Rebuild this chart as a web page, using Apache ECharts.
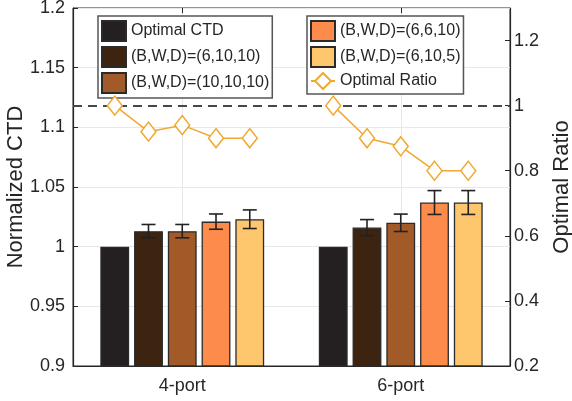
<!DOCTYPE html>
<html>
<head>
<meta charset="utf-8">
<script src="https://cdn.jsdelivr.net/npm/echarts@6/dist/echarts.min.js"></script>
<style>
html,body{margin:0;padding:0;background:#fff;}
#chart{width:572px;height:401px;}
</style>
</head>
<body>
<div id="chart"></div>
<script>
// ---- data ----
const categories = ['4-port', '6-port'];
const seriesNames = ['Optimal CTD', '(B,W,D)=(6,10,10)', '(B,W,D)=(10,10,10)', '(B,W,D)=(6,6,10)', '(B,W,D)=(6,10,5)'];
const optimalCTD = [1.000, 1.000];
const bwd_6_10_10 = [1.013, 1.016];
const bwd_10_10_10 = [1.013, 1.020];
const bwd_6_6_10 = [1.021, 1.037];
const bwd_6_10_5 = [1.023, 1.037];
const err_optimalCTD = [0, 0];
const err_6_10_10 = [0.0056, 0.0067];
const err_10_10_10 = [0.0056, 0.0073];
const err_6_6_10 = [0.0064, 0.010];
const err_6_10_5 = [0.0078, 0.010];
const ratio4port = [1.00, 0.92, 0.94, 0.90, 0.90];
const ratio6port = [1.00, 0.90, 0.875, 0.80, 0.80];
const ratioReference = 1.0;

// ---- styles ----
const barColors = ['#242021', '#3d2410', '#a25a29', '#fd8c4c', '#fec76e'];
const lineColor = '#f0a830';
const textColor = '#262626';
const FONT = 'Liberation Sans, Arial, sans-serif';

const barValues = [optimalCTD, bwd_6_10_10, bwd_10_10_10, bwd_6_6_10, bwd_6_10_5];
const barErrors = [err_optimalCTD, err_6_10_10, err_10_10_10, err_6_6_10, err_6_10_5];
const ratios = [ratio4port, ratio6port];

// bar layout (category units) so that line / error bars align with bars
const nBars = barValues.length;
const catGap = 0.25, barGap = 0.17;
const wUnit = (1 - catGap) / (nBars + (nBars - 1) * barGap);
const totalUnit = nBars * wUnit + (nBars - 1) * wUnit * barGap;
function barPos(cat, j) {
  return cat + 0.5 - totalUnit / 2 + j * wUnit * (1 + barGap) + wUnit / 2;
}

const series = [];
barValues.forEach((vals, j) => {
  series.push({
    name: seriesNames[j],
    type: 'bar',
    xAxisIndex: 0,
    yAxisIndex: 0,
    data: vals,
    barGap: (barGap * 100) + '%',
    barCategoryGap: (catGap * 100) + '%',
    itemStyle: { color: barColors[j], borderColor: '#2a2a2a', borderWidth: 1.3 },
    silent: true
  });
});

// error bars
const errData = [];
barValues.forEach((vals, j) => {
  vals.forEach((v, c) => {
    const e = barErrors[j][c];
    if (e > 0) errData.push([barPos(c, j), v - e, v + e]);
  });
});
series.push({
  type: 'custom',
  xAxisIndex: 2,
  yAxisIndex: 0,
  data: errData,
  encode: { x: 0, y: [1, 2] },
  silent: true,
  z: 5,
  renderItem: function (params, api) {
    const x = api.value(0);
    const lo = api.coord([x, api.value(1)]);
    const hi = api.coord([x, api.value(2)]);
    const cap = 7;
    const st = { stroke: '#222', lineWidth: 1.6, fill: null };
    return {
      type: 'group',
      children: [
        { type: 'line', shape: { x1: lo[0], y1: lo[1], x2: hi[0], y2: hi[1] }, style: st },
        { type: 'line', shape: { x1: lo[0] - cap, y1: lo[1], x2: lo[0] + cap, y2: lo[1] }, style: st },
        { type: 'line', shape: { x1: hi[0] - cap, y1: hi[1], x2: hi[0] + cap, y2: hi[1] }, style: st }
      ]
    };
  }
});

// ratio lines
ratios.forEach((arr, c) => {
  const s = {
    name: 'Optimal Ratio',
    type: 'line',
    xAxisIndex: 2,
    yAxisIndex: 1,
    data: arr.map((v, j) => [barPos(c, j), v]),
    symbol: 'diamond',
    symbolSize: [15, 19],
    lineStyle: { color: lineColor, width: 1.5 },
    itemStyle: { color: '#fff', borderColor: lineColor, borderWidth: 1.5 },
    z: 6,
    silent: true
  };
  if (c === 0) {
    s.markLine = {
      silent: true,
      symbol: 'none',
      label: { show: false },
      lineStyle: { color: '#474747', type: [9, 6], width: 2 },
      data: [{ yAxis: ratioReference }]
    };
  }
  series.push(s);
});

const legendCommon = {
  orient: 'vertical', top: 16,
  itemWidth: 24, itemHeight: 20, itemGap: 4,
  padding: [4, 3, 4, 3],
  backgroundColor: '#fff', borderColor: '#555', borderWidth: 1.5,
  textStyle: { fontSize: 16, color: textColor, fontFamily: FONT },
  selectedMode: false
};

const chart = echarts.init(document.getElementById('chart'), null, { renderer: 'canvas' });
chart.setOption({
  animation: false,
  backgroundColor: '#fff',
  textStyle: { fontFamily: FONT },
  grid: { left: 73, right: 62, top: 8, bottom: 35, outerBoundsMode: 'none', containLabel: false, show: true, borderColor: '#262626', borderWidth: 1, backgroundColor: 'transparent' },
  legend: [
    Object.assign({}, legendCommon, {
      left: 98,
      data: seriesNames.slice(0, 3).map(n => ({ name: n, icon: 'rect' }))
    }),
    Object.assign({}, legendCommon, {
      left: 307,
      data: [{ name: seriesNames[3], icon: 'rect' }, { name: seriesNames[4], icon: 'rect' }, { name: 'Optimal Ratio' }]
    })
  ],
  xAxis: [
    {
      type: 'category', data: categories, position: 'bottom',
      axisLine: { show: true, lineStyle: { color: '#262626', width: 1.2 } },
      axisTick: { show: true, inside: true, alignWithLabel: true, length: 5, lineStyle: { color: '#262626' } },
      axisLabel: { fontSize: 18, color: textColor, margin: 11, fontFamily: FONT },
      splitLine: { show: true, alignWithLabel: true, lineStyle: { color: '#e8e8e8', width: 1 } }
    },
    {
      type: 'category', data: categories, position: 'top',
      axisLine: { show: false },
      axisTick: { show: true, inside: true, alignWithLabel: true, length: 5, lineStyle: { color: '#262626' } },
      axisLabel: { show: false },
      splitLine: { show: false }
    },
    {
      type: 'value', min: 0, max: 2, show: false
    }
  ],
  yAxis: [
    {
      type: 'value', min: 0.9, max: 1.2, interval: 0.05, position: 'left',
      name: 'Normalized CTD', nameLocation: 'middle', nameGap: 46, nameRotate: 90, nameMoveOverlap: false,
      nameTextStyle: { fontSize: 22, color: textColor, fontFamily: FONT },
      axisLine: { show: true, lineStyle: { color: '#262626', width: 1.2 } },
      axisTick: { show: true, inside: true, length: 5, lineStyle: { color: '#262626' } },
      axisLabel: { fontSize: 18, color: textColor, margin: 8, fontFamily: FONT },
      splitLine: { show: true, lineStyle: { color: '#e8e8e8', width: 1 } }
    },
    {
      type: 'value', min: 0.2, max: 1.3, interval: 0.2, position: 'right',
      name: 'Optimal Ratio', nameLocation: 'middle', nameGap: 41, nameRotate: 90, nameMoveOverlap: false,
      nameTextStyle: { fontSize: 22, color: textColor, fontFamily: FONT },
      axisLine: { show: true, lineStyle: { color: '#262626', width: 1.2 } },
      axisTick: { show: true, inside: true, length: 5, lineStyle: { color: '#262626' } },
      axisLabel: { fontSize: 18, color: textColor, margin: 4, showMaxLabel: false, fontFamily: FONT },
      splitLine: { show: false }
    }
  ],
  series: series
});
</script>
</body>
</html>
